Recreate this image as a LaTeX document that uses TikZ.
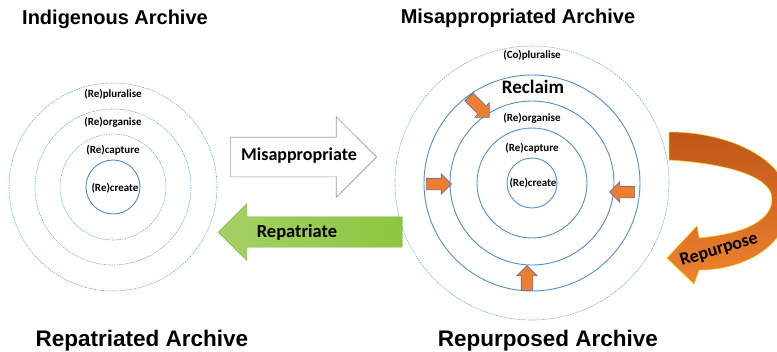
\documentclass[tikz,border=0pt]{standalone}
\usepackage{fontspec}
\setmainfont{Carlito}
\newfontfamily\titlefont{Liberation Sans}
\usetikzlibrary{shapes.arrows,positioning}

\definecolor{ringblue}{HTML}{4F8FCB}
\definecolor{dashblue}{HTML}{6FA8DC}
\definecolor{orangefill}{HTML}{ED7D31}
\definecolor{arrowedge}{HTML}{5470A0}
\definecolor{greenfill}{HTML}{8DC63F}
\definecolor{brownfill}{HTML}{C0561A}

\begin{document}
\begin{tikzpicture}[x=1pt, y=-1pt,
    solidring/.style={draw=ringblue, line width=0.9pt},
    dashring/.style={draw=dashblue, line width=0.6pt, dash pattern=on 1.5pt off 1pt},
    ringlabel/.style={font=\bfseries\fontsize{11}{13}\selectfont},
    archtitle/.style={font=\titlefont\bfseries\fontsize{20}{24}\selectfont},
    bigtitle/.style={font=\titlefont\bfseries\fontsize{22.5}{26}\selectfont},
    arrowtext/.style={font=\bfseries\fontsize{18}{21}\selectfont},
    smallarrow/.style={single arrow, draw=arrowedge, fill=orangefill, line width=0.6pt,
        minimum height=25pt, inner sep=5.5pt, single arrow head extend=4.5pt},
    every node/.style={text centered}
]
\useasboundingbox (0,0) rectangle (777,351);

% titles
\node[archtitle] (indig) at (115,19) {Indigenous Archive};
\node[archtitle] (misarch) at (518,18) {Misappropriated Archive};
\node[bigtitle] (repatarch) at (142,341) {Repatriated Archive};
\node[bigtitle] (repurarch) at (548,341) {Repurposed Archive};

% indigenous rings
\coordinate (lc) at (113,187);
\draw[dashring] (lc) circle[radius=104];
\draw[dashring] (lc) circle[radius=78];
\draw[dashring] (lc) circle[radius=53];
\draw[solidring] (lc) circle[radius=27];
\node[ringlabel] (lplural) at (113,94) {(Re)pluralise};
\node[ringlabel] (lorgan) at (113,122) {(Re)organise};
\node[ringlabel] (lcapt) at (113,150) {(Re)capture};
\node[ringlabel] (lcreate) at (115,188) {(Re)create};

% misappropriated rings
\coordinate (rc) at (532,183);
\draw[dashring] (rc) circle[radius=137];
\draw[solidring] (rc) circle[radius=108];
\draw[solidring] (rc) circle[radius=82];
\draw[solidring] (rc) circle[radius=55];
\draw[solidring] (rc) circle[radius=25];
\node[ringlabel] (rplural) at (532,55) {(Co)pluralise};
\node[font=\bfseries\fontsize{19}{22}\selectfont] (reclaim) at (533,87) {Reclaim};
\node[ringlabel] (rorgan) at (532,118) {(Re)organise};
\node[ringlabel] (rcapt) at (532,148) {(Re)capture};
\node[ringlabel] (rcreate) at (533,183) {(Re)create};

\node[smallarrow, rotate=-45, minimum height=29pt] (inne) at (477,105) {};
\node[smallarrow] (inw) at (436,184) {};
\node[smallarrow, rotate=180] (ine) at (625,192) {};
\node[smallarrow, rotate=90] (ins) at (527,281) {};

% block arrows between the archives
\node[single arrow, anchor=tip, draw=arrowedge!70, fill=white, line width=0.6pt,
    minimum height=146pt, text height=10pt, text depth=3pt, inner ysep=13pt,
    single arrow head extend=20.5pt] (misapp) at (377,157) {};
\node[arrowtext] (misapptext) at (299,156) {Misappropriate};
\node[single arrow, anchor=tip, shape border rotate=180, draw=greenfill!90!black,
    left color=greenfill!80!white, right color=greenfill,
    minimum height=184pt, text height=10pt, text depth=3pt, inner ysep=8.5pt,
    single arrow head extend=13.5pt] (repat) at (218,232) {};
\node[arrowtext, font=\bfseries\fontsize{18.5}{21}\selectfont] (repattext) at (297,232) {Repatriate};

% curved repurpose arrow
\shade[top color=brownfill, bottom color=orangefill!95!yellow, draw=yellow!60!orange, line width=0.5pt]
    (669,132) .. controls (730,132) and (790,160) .. (789,205)
    .. controls (788,245) and (745,270) .. (699,270)
    -- (694,284) -- (667,258) -- (697,226) -- (699,238)
    .. controls (745,234) and (773,220) .. (772,198)
    .. controls (771,175) and (722,163) .. (669,160) -- cycle;
\node[rotate=17, inner sep=1pt, font=\bfseries\fontsize{18}{21}\selectfont] (repurp) at (719,250) {Repurpose};

\end{tikzpicture}
\end{document}
